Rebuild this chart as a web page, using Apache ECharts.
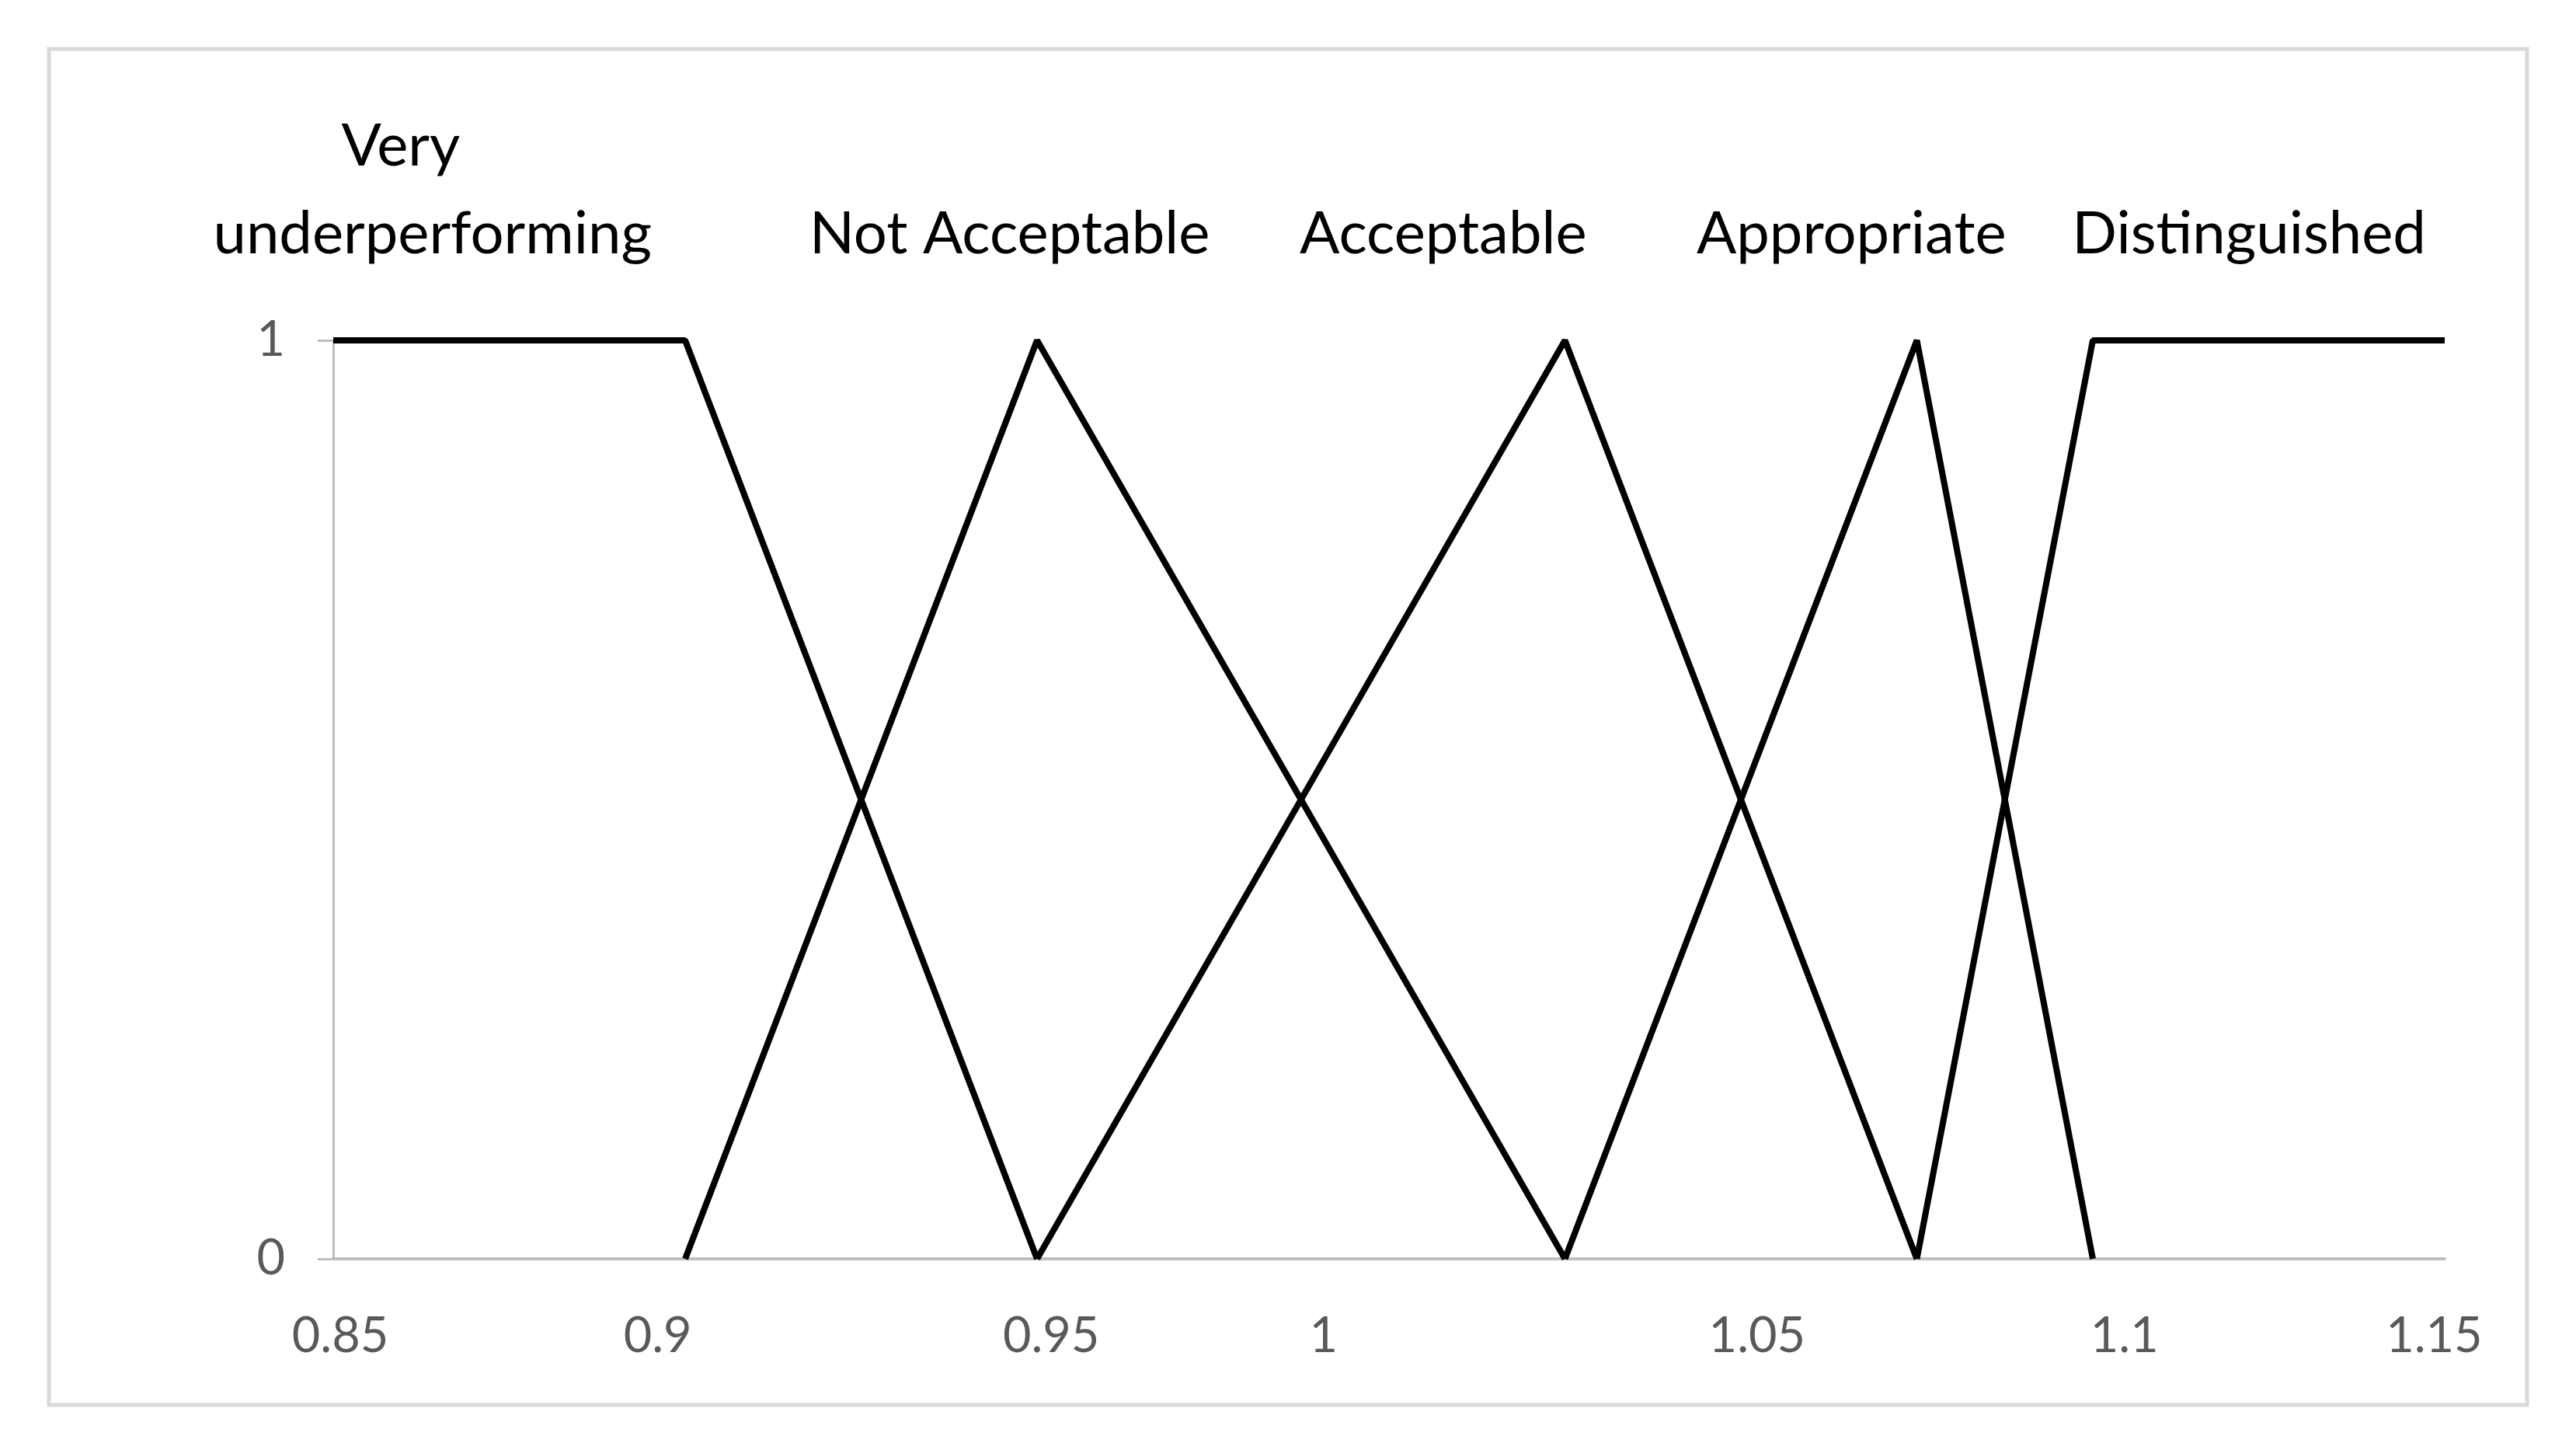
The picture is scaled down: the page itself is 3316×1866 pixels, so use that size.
<!DOCTYPE html>
<html style="height: 100%">
<head>
<meta charset="utf-8">
<script src="https://cdn.jsdelivr.net/npm/echarts@6/dist/echarts.min.js"></script>
</head>
<body style="height: 100%; margin: 0; background: #fff">
<div id="container" style="width: 3316px; height: 1866px"></div>
<script type="text/javascript">
// membership functions (x = ratio, y = degree)
var veryX = [0.85, 0.9, 0.95];
var veryY = [1, 1, 0];
var notAccX = [0.9, 0.95, 1.025];
var notAccY = [0, 1, 0];
var accX = [0.95, 1.025, 1.075];
var accY = [0, 1, 0];
var approX = [1.025, 1.075, 1.1];
var approY = [0, 1, 0];
var distX = [1.075, 1.1, 1.15];
var distY = [0, 1, 1];

// bottom tick labels, placed where the picture has them (in axis units)
var tickText = ['0.85', '0.9', '0.95', '1', '1.05', '1.1', '1.15'];
var tickAt = [0.851, 0.8961, 0.952, 0.9907, 1.0523, 1.1045, 1.1485];

// class names written above the plot
var classText = ['Very underperforming', 'Not Acceptable', 'Acceptable', 'Appropriate', 'Distinguished'];
var classAt = [0.8641, 0.9461, 1.0077, 1.0657, 1.1222];

function pairs(xs, ys) {
    return xs.map(function (x, i) { return [x, ys[i]]; });
}
function nearest(list, v) {
    var best = 0;
    for (var i = 1; i < list.length; i++) {
        if (Math.abs(list[i] - v) < Math.abs(list[best] - v)) best = i;
    }
    return best;
}

var dom = document.getElementById('container');
var myChart = echarts.init(dom, null, { renderer: 'canvas' });

var lineStyle = { color: '#000', width: 8, join: 'bevel' };
function mkSeries(name, xs, ys) {
    return {
        name: name,
        type: 'line',
        data: pairs(xs, ys),
        symbol: 'none',
        clip: false,
        lineStyle: lineStyle,
        animation: false
    };
}

var option = {
    animation: false,
    backgroundColor: '#fff',
    textStyle: { fontFamily: 'Lato' },
    grid: { left: 429, right: 169, top: 438, bottom: 246 },
    graphic: [{
        type: 'rect',
        shape: { x: 63, y: 63, width: 3190, height: 1745 },
        style: { fill: 'none', stroke: '#d9d9d9', lineWidth: 5 },
        z: -1
    }],
    xAxis: [{
        type: 'value',
        min: 0.85,
        max: 1.15,
        position: 'bottom',
        splitLine: { show: false },
        axisTick: { show: false },
        axisLine: { lineStyle: { color: '#bfbfbf', width: 4 } },
        axisLabel: {
            customValues: tickAt,
            margin: 68,
            fontSize: 63,
            fontFamily: 'Lato',
            color: '#595959',
            formatter: function (v) { return tickText[nearest(tickAt, v)]; }
        }
    }, {
        type: 'value',
        min: 0.85,
        max: 1.15,
        position: 'top',
        splitLine: { show: false },
        axisTick: { show: false },
        axisLine: { show: false },
        axisLabel: {
            customValues: classAt,
            margin: 80,
            fontSize: 76,
            lineHeight: 113,
            fontFamily: 'Lato',
            color: '#000',
            formatter: function (v) {
                var i = nearest(classAt, v);
                if (i === 0) return '{v|Very}\n{u|underperforming}';
                return '{u|' + classText[i] + '}';
            },
            rich: {
                v: { fontSize: 76, lineHeight: 113, fontFamily: 'Lato', color: '#000', padding: [0, 82, 0, 0] },
                u: { fontSize: 76, lineHeight: 113, fontFamily: 'Lato', color: '#000' }
            }
        }
    }],
    yAxis: {
        type: 'value',
        min: 0,
        max: 1,
        interval: 1,
        splitLine: { show: false },
        axisLine: { show: true, lineStyle: { color: '#bfbfbf', width: 3 } },
        axisTick: { show: true, length: 20, lineStyle: { color: '#bfbfbf', width: 3 } },
        axisLabel: { margin: 62, fontSize: 63, fontFamily: 'Lato', color: '#595959' }
    },
    series: [
        mkSeries(classText[0], veryX, veryY),
        mkSeries(classText[1], notAccX, notAccY),
        mkSeries(classText[2], accX, accY),
        mkSeries(classText[3], approX, approY),
        mkSeries(classText[4], distX, distY)
    ]
};

myChart.setOption(option);
</script>
</body>
</html>
